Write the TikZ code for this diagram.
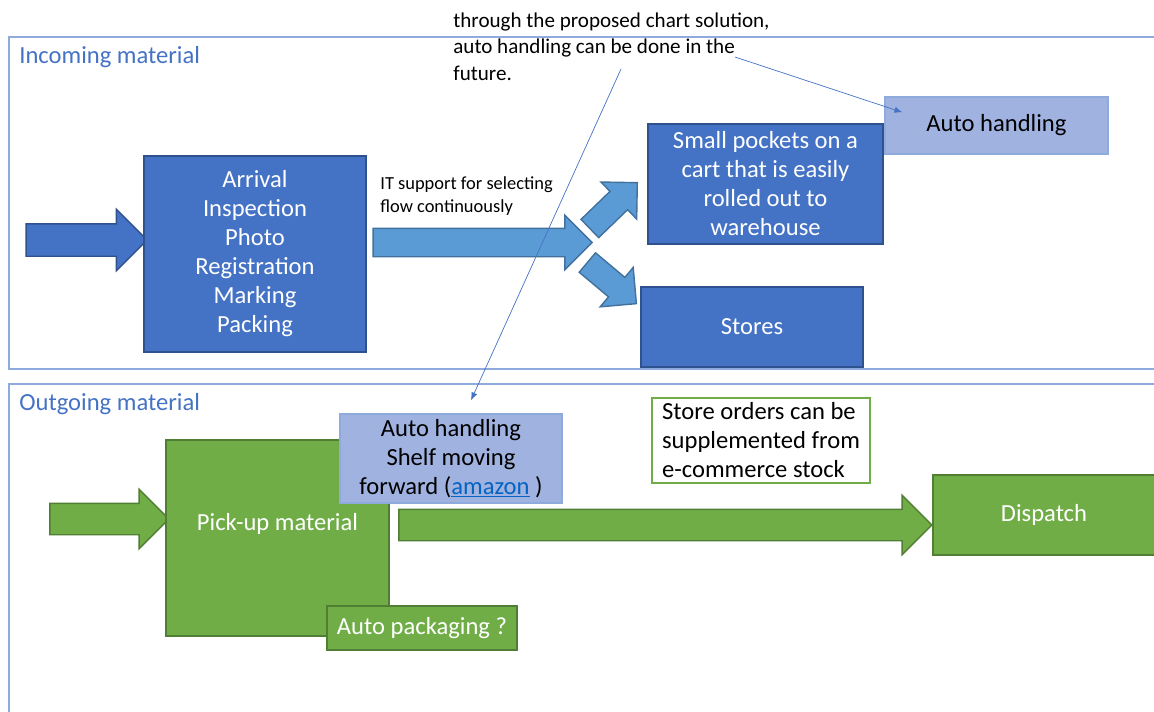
\documentclass[tikz,border=0pt]{standalone}
\usepackage{fontspec}
\setmainfont{Carlito}
\usetikzlibrary{positioning, calc, shapes.arrows, arrows.meta}

\definecolor{boxblue}{HTML}{4472C4}
\definecolor{boxblueline}{HTML}{2F528F}
\definecolor{arrowblue}{HTML}{5B9BD5}
\definecolor{arrowblueline}{HTML}{41719C}
\definecolor{boxgreen}{HTML}{70AD47}
\definecolor{boxgreenline}{HTML}{507E32}
\definecolor{autoblue}{HTML}{9FB2E0}
\definecolor{frameblue}{HTML}{8FAADC}
\definecolor{linkblue}{HTML}{0563C1}

\begin{document}
\begin{tikzpicture}[x=0.02cm, y=-0.02cm]
	\tikzstyle{box}=[rectangle, inner sep=0, align=center, font=\fontsize{14}{16.5}\selectfont, line width=0.8pt];
	\tikzstyle{bluebox}=[box, draw=boxblueline, fill=boxblue, text=white];
	\tikzstyle{greenbox}=[box, draw=boxgreenline, fill=boxgreen, text=white];
	\tikzstyle{autobox}=[box, draw=frameblue, fill=autoblue, text=black];
	\tikzstyle{blockarrow}=[single arrow, inner xsep=0, inner ysep=0.3cm, line width=0.8pt, single arrow head extend=0.28cm];
	\tikzstyle{frame}=[draw=frameblue, line width=0.8pt];
	\tikzstyle{title}=[anchor=west, inner sep=0, text=boxblue, font=\fontsize{14}{16.5}\selectfont];
	\tikzstyle{remark}=[draw=boxblue, line width=0.4pt, -{Latex[length=4.5pt, width=3.5pt]}];

   \useasboundingbox (0,0) rectangle (1154,711);

   % frames
   \draw[frame] (1170,37) -- (9,37) -- (9,369) -- (1170,369);
   \draw[frame] (1170,384) -- (9,384) -- (9,730);
   \node[title] (inc) at (19,57) {Incoming material};
   \node[title] (out) at (19,404) {Outgoing material};

   % incoming material
   \node[blockarrow, draw=boxblueline, fill=boxblue, minimum height=2.42cm, inner ysep=0.31cm, single arrow head extend=0.29cm] (inarrow) at (78.5,240) {};
   \node[bluebox, minimum width=4.44cm, minimum height=3.92cm] (arrival) at (255,254) {Arrival\\Inspection\\Photo\\Registration\\Marking\\Packing};
   \node[blockarrow, draw=arrowblueline, fill=arrowblue, minimum height=4.38cm, inner ysep=0.27cm, single arrow head extend=0.26cm] (flow) at (475.5,242.5) {};
   \node[anchor=west, inner sep=0, align=left, font=\fontsize{10.5}{13}\selectfont] (it) at (380,196) {IT support for selecting\\flow continuously};
   \node[blockarrow, draw=arrowblueline, fill=arrowblue, minimum height=1.32cm, inner ysep=0.24cm, single arrow head extend=0.26cm, rotate=44] (upflow) at (609,210) {};
   \node[blockarrow, draw=arrowblueline, fill=arrowblue, minimum height=1.28cm, inner ysep=0.24cm, single arrow head extend=0.26cm, rotate=-40] (downflow) at (607,279) {};
   \node[bluebox, minimum width=4.7cm, minimum height=2.4cm] (pockets) at (765.5,184) {Small pockets on a\\cart that is easily\\rolled out to\\warehouse};
   \node[bluebox, minimum width=4.44cm, minimum height=1.6cm] (stores) at (752,327) {Stores};
   \node[autobox, minimum width=4.46cm, minimum height=1.14cm] (autotop) at (996.5,125.5) {Auto handling};

   % outgoing material
   \node[blockarrow, draw=boxgreenline, fill=boxgreen, minimum height=2.38cm] (outarrow) at (101.5,519) {};
   \node[greenbox, minimum width=4.46cm, minimum height=3.92cm, text depth=0.66cm] (pickup) at (277.5,538) {Pick-up material};
   \node[autobox, minimum width=4.44cm, minimum height=1.78cm] (autoshelf) at (451,458.5) {Auto handling\\Shelf moving\\forward (\textcolor{linkblue}{\underline{amazon}} )};
   \node[greenbox, minimum width=3.8cm, minimum height=0.88cm] (packaging) at (422,628) {Auto packaging ?};
   \node[blockarrow, draw=boxgreenline, fill=boxgreen, minimum height=10.66cm] (dispatcharrow) at (657.5,525) {};
   \node[greenbox, minimum width=4.44cm, minimum height=1.6cm] (dispatch) at (1044,515) {Dispatch};
   \node[box, draw=boxgreen, fill=white, minimum width=4.36cm, minimum height=1.7cm, align=left] (orders) at (761,440.5) {Store orders can be\\supplemented from\\e-commerce stock};

   % remark
   \node[anchor=west, inner sep=0, align=left, font=\fontsize{12}{15.1}\selectfont] (note) at (453,46.5) {through the proposed chart solution,\\auto handling can be done in the\\future.};
   \coordinate (r1) at (735,57);
   \coordinate (r2) at (621,69);
   \draw[remark] (r1) -- ($(autotop.north west)+(18,16)$);
   \draw[remark] (r2) -- ($(autoshelf.north)+(20,-13)$);

\end{tikzpicture}
\end{document}
